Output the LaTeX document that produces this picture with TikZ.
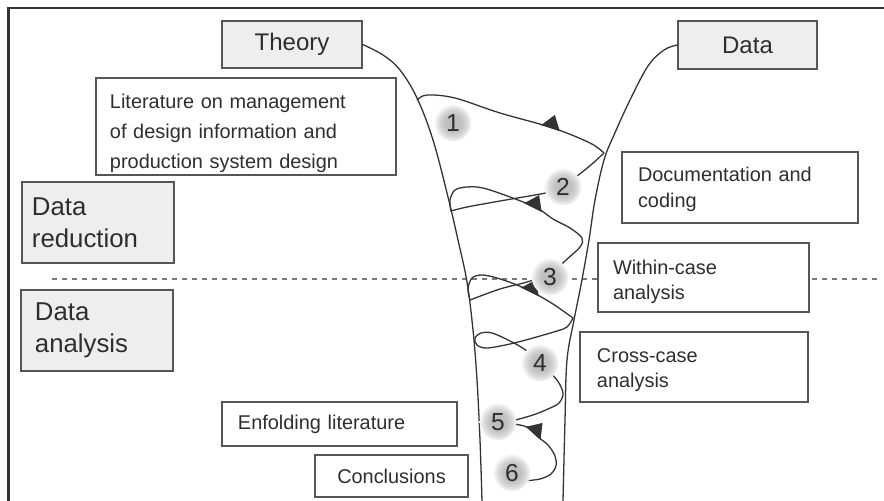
\documentclass[tikz,border=0pt]{standalone}
\usepackage{fontspec}
\setmainfont{Liberation Sans}
\usetikzlibrary{arrows.meta}
\definecolor{ink}{HTML}{2E2E2E}
\definecolor{rule}{HTML}{565656}
\definecolor{panel}{HTML}{EEEEEE}
\definecolor{curve}{HTML}{333333}
\definecolor{dots}{HTML}{7A7A7A}
\definecolor{frame}{HTML}{333333}
% soft grey disc behind the step numbers
\pgfdeclareradialshading{stepglow}{\pgfpoint{0bp}{0bp}}{color(0bp)=(black!27); color(12bp)=(black!24); color(19bp)=(black!15); color(25bp)=(black!3); color(50bp)=(black!3)}
\begin{document}
\begin{tikzpicture}[x=0.03cm, y=-0.03cm,
  box/.style={draw=rule, line width=1.2pt, text=ink, inner ysep=0pt, align=left, anchor=center},
  panelbox/.style={box, fill=panel},
  plainbox/.style={box, fill=white},
  curveline/.style={draw=curve, line width=1.1pt, line cap=round, line join=round},
  stepnum/.style={circle, inner sep=0pt, minimum size=1.1cm, shade, shading=stepglow, text=ink, font=\fontsize{21}{21}\selectfont},
  % half arrowhead sitting on the spiral
  harp/.style={draw=curve, line width=1.1pt, -{Kite[harpoon, length=0.56cm, width=0.8cm, inset=0.28cm]}},
  small/.style={font=\fontsize{17}{22}\selectfont},
]
\useasboundingbox (0,0) rectangle (884,501);
\fill[white] (0,0) rectangle (884,501);

% outer frame (top and left edges)
\draw[frame, line width=0.08cm] (8.3,501) -- (8.3,8) -- (884,8);

% divider between data reduction and data analysis
\draw[dots, line width=1.3pt, dash pattern=on 0.14cm off 0.16cm] (52,279) -- (877,279);

% labelled boxes
\node[panelbox, minimum width=4.2cm, minimum height=1.41cm, align=center, font=\fontsize{20.5}{24}\selectfont] (theory) at (292,44.5) {Theory};
\node[panelbox, minimum width=4.17cm, minimum height=1.44cm, align=center, font=\fontsize{20.5}{24}\selectfont] (data) at (747.5,45) {Data};
\node[plainbox, minimum width=9cm, minimum height=2.91cm, inner xsep=0.42cm, text width=8.16cm, font=\fontsize{17}{25.5}\selectfont] (lit) at (246,126.5) {\rule{0pt}{0.85cm}Literature on management\\of design information and\\production system design};
\node[panelbox, minimum width=4.56cm, minimum height=2.43cm, inner xsep=0.3cm, text width=3.96cm, font=\fontsize{22}{27.5}\selectfont] (reduction) at (98,222.5) {Data\\reduction};
\node[panelbox, minimum width=4.56cm, minimum height=2.43cm, inner xsep=0.42cm, text width=3.72cm, font=\fontsize{22}{27}\selectfont] (analysis) at (97,330.5) {Data\\analysis};
\node[plainbox, small, minimum width=7.08cm, minimum height=2.13cm, inner xsep=0.48cm, text width=6.12cm] (doc) at (740,187.5) {\rule{0pt}{0.55cm}Documentation and\\coding};
\node[plainbox, small, minimum width=6.33cm, minimum height=2.07cm, inner xsep=0.45cm, text width=5.43cm] (within) at (703.5,277.5) {\rule{0pt}{0.7cm}Within-case\\analysis};
\node[plainbox, small, minimum width=6.84cm, minimum height=2.1cm, inner xsep=0.51cm, text width=5.82cm] (cross) at (694,367) {\rule{0pt}{0.6cm}Cross-case\\analysis};
\node[plainbox, small, minimum width=7.05cm, minimum height=1.32cm, inner xsep=0.48cm, text width=6.09cm] (enfold) at (339.5,424) {Enfolding literature};
\node[plainbox, small, minimum width=4.59cm, minimum height=1.26cm, align=center] (concl) at (391.5,476) {Conclusions};

% funnel sides
\coordinate (lbot) at (482,501);
\coordinate (rbot) at (563,501);
\draw[curveline] plot[smooth, tension=0.6] coordinates {(theory.east) (383,55) (400,70) (417,98) (433,140) (448,197) (458,240) (467,282) (473,330) (477,380) (480,440) (lbot)};
\draw[curveline] plot[smooth, tension=0.6] coordinates {(data.west) (664,50) (648,66) (630,100) (614,135) (604,160) (595,200) (589,240) (581,285) (574,320) (567,360) (565,420) (rbot)};

% turning points of the spiral
\coordinate (s0) at (417,100);
\coordinate (s1) at (604,153);
\coordinate (s2) at (451,211);
\coordinate (s3) at (470,300);
\coordinate (s4) at (573,318);
\coordinate (s5in) at (512,421);
\coordinate (s5out) at (513,424);
\coordinate (s6in) at (524,481);

% spiral between theory and data
\draw[curveline] plot[smooth, tension=0.55] coordinates {(s0) (427,95) (455,98) (500,113) (553,128) (590,143) (s1)};
\draw[curveline] plot[smooth, tension=0.55] coordinates {(s1) (592,164) (577,176) (563,185) (550,192) (500,201) (467,207) (s2)};
\draw[curveline] plot[smooth, tension=0.55] coordinates {(s2) (450,200) (455,190) (467,187) (483,188) (510,197) (537,208) (553,219) (570,228) (582,238) (580,247) (566,260) (550,274) (527,282) (500,289) (s3)};
\draw[curveline] plot[smooth, tension=0.55] coordinates {(s3) (468,289) (472,278) (482,275) (497,278) (517,285) (534,293) (553,304) (s4)};
\draw[curveline] plot[smooth, tension=0.55] coordinates {(s4) (567,327) (557,331) (533,338) (510,344) (487,348) (477,345) (475,338) (481,333) (492,333) (510,341) (527,351) (545,368) (557,380) (563,393) (559,403) (548,409) (533,415) (s5in)};
\draw[curveline] plot[smooth, tension=0.55] coordinates {(s5out) (527,427) (538,437) (548,445) (555,456) (556,466) (551,474) (540,479) (s6in)};

% direction arrowheads along the spiral
\coordinate (h1a) at (541,124.4);
\coordinate (h1b) at (560,130.6);
\coordinate (h2a) at (525,203);
\coordinate (h2b) at (542,211.4);
\coordinate (h3a) at (521,286.9);
\coordinate (h3b) at (539,295.9);
\coordinate (h4a) at (527,427);
\coordinate (h4b) at (541,439.4);
\draw[harp] (h1a) -- (h1b);
\draw[harp] (h2a) -- (h2b);
\draw[harp] (h3a) -- (h3b);
\draw[harp] (h4a) -- (h4b);

% numbered steps
\node[stepnum] (n1) at (453,123) {1};
\node[stepnum] (n2) at (563,187) {2};
\node[stepnum] (n3) at (550,277) {3};
\node[stepnum] (n4) at (540,363) {4};
\node[stepnum] (n5) at (498,422) {5};
\node[stepnum] (n6) at (512,473) {6};
\end{tikzpicture}
\end{document}
